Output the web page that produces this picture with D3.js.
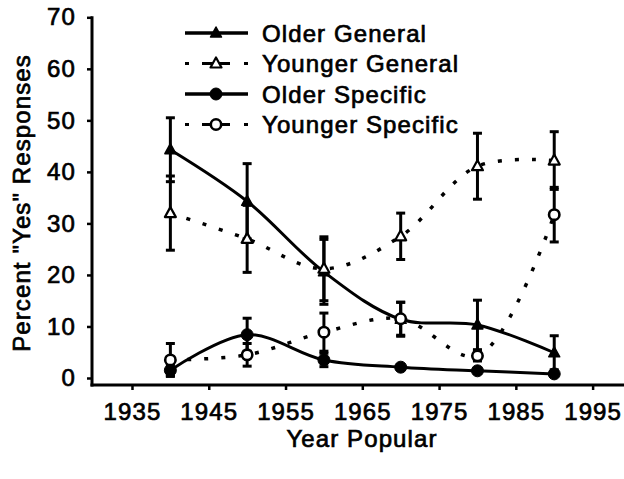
<!DOCTYPE html>
<html>
<head>
<meta charset="utf-8">
<script src="https://cdn.jsdelivr.net/npm/d3@7/dist/d3.min.js"></script>
<style>
  html, body { margin: 0; padding: 0; background: #fff; }
  svg { display: block; }
  text { font-family: "Liberation Sans", Arial, Helvetica, sans-serif; fill: #000; stroke: #000; stroke-width: 0.7px; }
</style>
</head>
<body>
<svg id="chart" width="624" height="479"></svg>
<script>
// ---- data ----
const years = [1940, 1950, 1960, 1970, 1980, 1990];
const olderGeneral = [44.3, 34.3, 20.6, 11.4, 10.3, 4.9];
const olderGeneralErr = [6.2, 7.3, 6.3, 3.3, 4.8, 3.3];
const youngerGeneral = [32.0, 27.0, 21.2, 27.5, 41.1, 42.2];
const youngerGeneralErr = [7.2, 6.5, 6.2, 4.5, 6.4, 5.6];
const olderSpecific = [1.5, 8.4, 3.5, 2.1, 1.4, 0.8];
const olderSpecificErr = [1.0, 3.2, 1.3, 0.5, 0.5, 0.3];
const youngerSpecific = [3.5, 4.5, 8.9, 11.5, 4.3, 31.7];
const youngerSpecificErr = [3.2, 2.2, 3.7, 3.2, 1.0, 5.3];
const seriesNames = ["Older General", "Younger General", "Older Specific", "Younger Specific"];
const xTicks = [1935, 1945, 1955, 1965, 1975, 1985, 1995];
const yTicks = [0, 10, 20, 30, 40, 50, 60, 70];
const xTitle = "Year Popular";
const yTitle = "Percent \"Yes\" Responses";

// ---- layout ----
const svg = d3.select("#chart");
const x = d3.scaleLinear().domain([1930, 2000]).range([93.6, 631]);
const y = d3.scaleLinear().domain([0, 70]).range([378, 17.3]);
const axisX = 92, axisY = 385;
const FS = 24, LS = "1.1px";

const series = [
  { name: seriesNames[0], vals: olderGeneral, err: olderGeneralErr, marker: "tri", filled: true, dashed: false },
  { name: seriesNames[1], vals: youngerGeneral, err: youngerGeneralErr, marker: "tri", filled: false, dashed: true },
  { name: seriesNames[2], vals: olderSpecific, err: olderSpecificErr, marker: "circ", filled: true, dashed: false },
  { name: seriesNames[3], vals: youngerSpecific, err: youngerSpecificErr, marker: "circ", filled: false, dashed: true }
];

// axes
const gx = svg.append("g").attr("transform", `translate(0,${axisY})`)
  .call(d3.axisBottom(x).tickValues(xTicks).tickFormat(d3.format("d")).tickSize(5).tickSizeOuter(0).tickPadding(13));
gx.select(".domain").remove();
gx.selectAll(".tick line").attr("stroke", "#000").attr("stroke-width", 2.5);
gx.selectAll(".tick text").attr("font-size", FS).attr("letter-spacing", LS)
  .attr("font-family", "Liberation Sans, Arial, sans-serif");

const gy = svg.append("g").attr("transform", `translate(${axisX},0)`)
  .call(d3.axisLeft(y).tickValues(yTicks).tickSize(5).tickSizeOuter(0).tickPadding(11));
gy.select(".domain").remove();
gy.selectAll(".tick line").attr("stroke", "#000").attr("stroke-width", 2.5);
gy.selectAll(".tick text").attr("font-size", FS).attr("letter-spacing", LS)
  .attr("font-family", "Liberation Sans, Arial, sans-serif");

svg.append("line").attr("x1", axisX).attr("x2", axisX).attr("y1", y(70) - 1).attr("y2", axisY + 1.5)
  .attr("stroke", "#000").attr("stroke-width", 3);
svg.append("line").attr("x1", axisX - 1.5).attr("x2", 624).attr("y1", axisY).attr("y2", axisY)
  .attr("stroke", "#000").attr("stroke-width", 3);

// titles
svg.append("text").attr("x", 362).attr("y", 447).attr("text-anchor", "middle")
  .attr("font-size", FS).attr("letter-spacing", LS).text(xTitle);
svg.append("text").attr("transform", "translate(30,203) rotate(-90)").attr("text-anchor", "middle")
  .attr("font-size", FS).attr("letter-spacing", LS).text(yTitle);

// curves
const line = d3.line().x((d, i) => x(years[i])).y(d => y(d)).curve(d3.curveCatmullRom.alpha(0.5));
const gLines = svg.append("g");
series.forEach(s => {
  gLines.append("path").attr("d", line(s.vals)).attr("fill", "none").attr("stroke", "#000")
    .attr("stroke-width", s.dashed ? 3.5 : 3)
    .attr("stroke-dasharray", s.dashed ? "4,13" : null);
});

// error bars
const gErr = svg.append("g").attr("stroke", "#000").attr("stroke-width", 3);
series.forEach(s => {
  s.vals.forEach((v, i) => {
    const cx = x(years[i]);
    const y1 = y(v + s.err[i]), y2 = y(v - s.err[i]);
    gErr.append("line").attr("x1", cx).attr("x2", cx).attr("y1", y1).attr("y2", y2);
    gErr.append("line").attr("x1", cx - 4.5).attr("x2", cx + 4.5).attr("y1", y1).attr("y2", y1);
    gErr.append("line").attr("x1", cx - 4.5).attr("x2", cx + 4.5).attr("y1", y2).attr("y2", y2);
  });
});

// markers
function drawMarker(g, s, cx, cy) {
  if (s.marker === "tri") {
    const h = 10, w = 11;
    g.append("path").attr("d", `M${cx},${cy - h * 0.6} L${cx + w / 2},${cy + h * 0.4} L${cx - w / 2},${cy + h * 0.4} Z`)
      .attr("fill", s.filled ? "#000" : "#fff").attr("stroke", "#000").attr("stroke-width", s.filled ? 1.5 : 2.2)
      .attr("stroke-linejoin", "round");
  } else {
    g.append("circle").attr("cx", cx).attr("cy", cy).attr("r", s.filled ? 6 : 5.2)
      .attr("fill", s.filled ? "#000" : "#fff").attr("stroke", "#000").attr("stroke-width", s.filled ? 1 : 2.6);
  }
}
const gMark = svg.append("g");
series.forEach(s => {
  s.vals.forEach((v, i) => drawMarker(gMark, s, x(years[i]), y(v)));
});

// legend
const legY = [33, 63.5, 94, 124.5];
const gLeg = svg.append("g");
series.forEach((s, k) => {
  const ly = legY[k];
  gLeg.append("line").attr("x1", 185).attr("x2", 248).attr("y1", ly).attr("y2", ly)
    .attr("stroke", "#000").attr("stroke-width", s.dashed ? 3 : 3.5)
    .attr("stroke-dasharray", s.dashed ? "4,13,28,14,4" : null);
  drawMarker(gLeg, s, 216, ly);
  gLeg.append("text").attr("x", 262).attr("y", ly + 8.6).attr("font-size", FS).attr("letter-spacing", LS).text(s.name);
});
</script>
</body>
</html>
